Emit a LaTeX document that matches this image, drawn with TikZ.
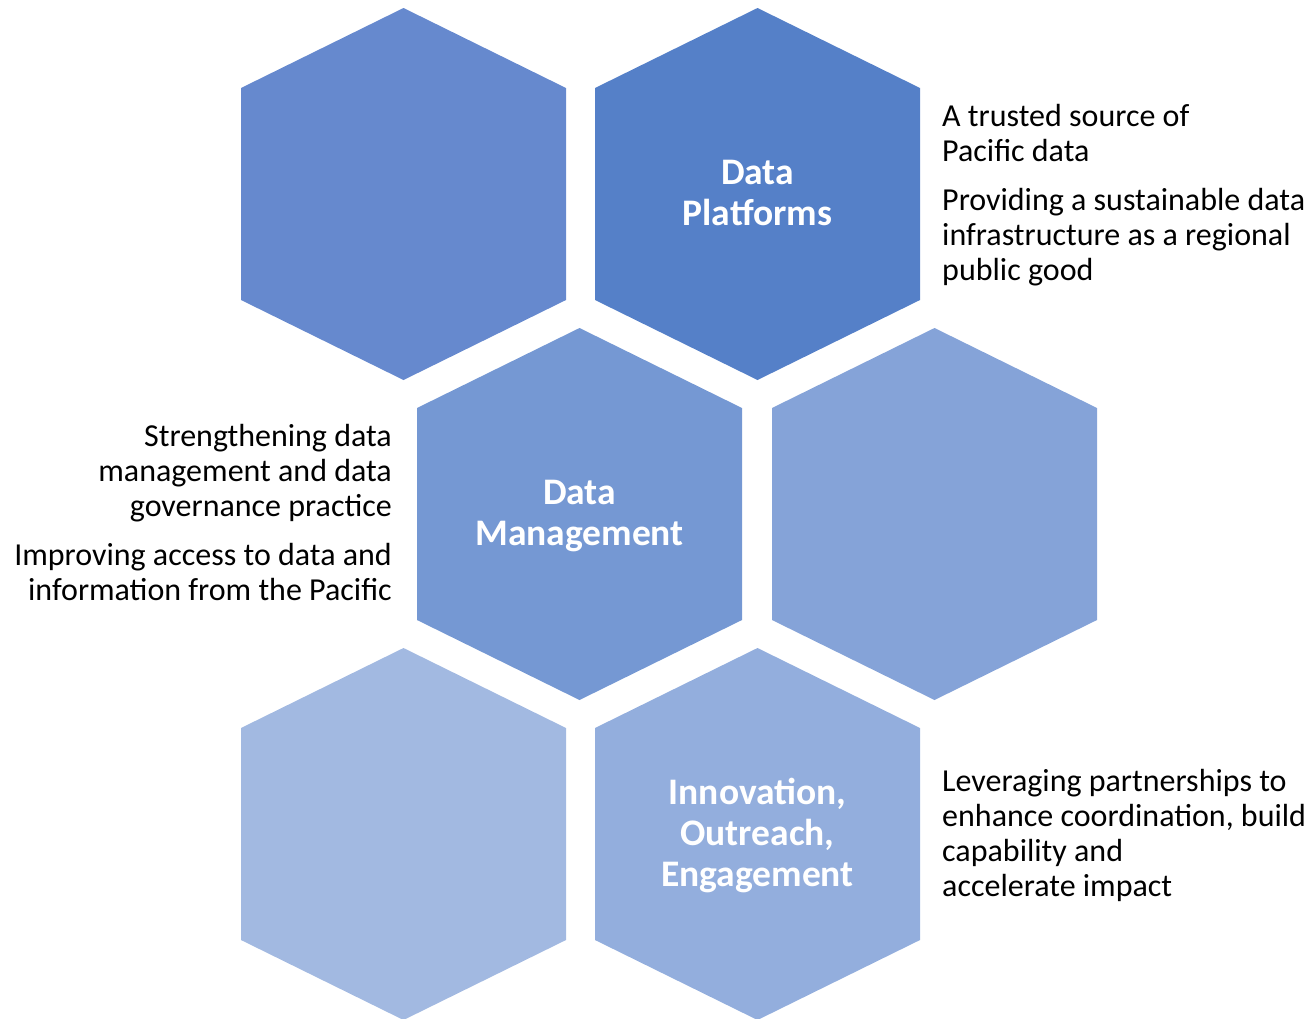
\documentclass[tikz,border=0pt]{standalone}
\usepackage{fontspec}
\setmainfont{Carlito}
\usetikzlibrary{positioning}

\definecolor{hexA}{HTML}{6689CE}
\definecolor{hexB}{HTML}{5580C8}
\definecolor{hexC}{HTML}{7598D3}
\definecolor{hexD}{HTML}{85A3D8}
\definecolor{hexE}{HTML}{A2B9E1}
\definecolor{hexF}{HTML}{93AEDD}

\newcommand{\hexcell}[3]{%
  \fill[#3] (#1-162.5,#2-106) -- (#1,#2-186) -- (#1+162.5,#2-106)
    -- (#1+162.5,#2+106) -- (#1,#2+186) -- (#1-162.5,#2+106) -- cycle;}

\begin{document}
\begin{tikzpicture}[x=1pt, y=-1pt,
    hexlabel/.style={text=white, font=\bfseries\fontsize{37.5}{41}\selectfont, align=center, inner sep=0pt},
    bodytext/.style={text=black, font=\fontsize{32}{35}\selectfont, inner sep=0pt}]
		\useasboundingbox (0,0) rectangle (1308,1018);

		\hexcell{403.5}{194}{hexA}
		\hexcell{757.5}{194}{hexB}
		\hexcell{579.5}{514}{hexC}
		\hexcell{934.5}{514}{hexD}
		\hexcell{403.5}{834}{hexE}
		\hexcell{757.5}{834}{hexF}

		\node[hexlabel] (platforms) at (757.5,192.5) {Data\\Platforms};
		\node[hexlabel] (management) at (579.5,516) {Data\\Management};
		\node[hexlabel] (innovation) at (757.5,835.5) {Innovation,\\Outreach,\\Engagement};

		\node[bodytext, align=left, anchor=west] (platformsnote) at (942,195)
			{A trusted source of\\Pacific data\\[14pt]Providing a sustainable data\\infrastructure as a regional\\public good};
		\node[bodytext, align=right, anchor=east] (managementnote) at (392,512.5)
			{Strengthening data\\management and data\\governance practice\\[14pt]Improving access to data and\\information from the Pacific};
		\node[bodytext, align=left, anchor=west] (innovationnote) at (942,835.5)
			{Leveraging partnerships to\\enhance coordination, build\\capability and\\accelerate impact};
	\end{tikzpicture}
\end{document}
